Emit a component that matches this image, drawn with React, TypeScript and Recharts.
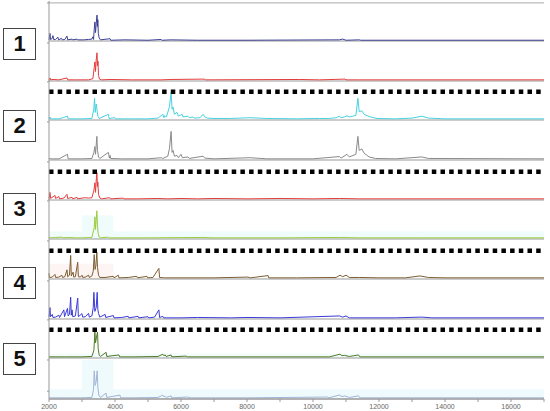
import React from 'react';
import { LineChart, Line, XAxis, YAxis, ReferenceLine, ReferenceArea } from 'recharts';

// m/z axis
const MZ_TICKS = [2000, 3000, 4000, 5000, 6000, 7000, 8000, 9000, 10000, 11000, 12000, 13000, 14000, 15000, 16000, 17000];
const Y_TICKS = [0, 20, 40, 60, 80, 100];
const GROUP_LABELS = ['1', '2', '3', '4', '5'];

type Peak = [number, number];

// [m/z, relative intensity]
const spectrum1: Peak[] = [[2000,3],[2030,20],[2045,4],[2090,6],[2120,14],[2140,4],[2200,4],[2270,10],[2290,3],[2380,7],[2400,3],[2480,4],[2545,13],[2565,3],[2700,5],[2720,3],[2850,5],[2870,3],[3050,3],[3200,4],[3300,5],[3330,11],[3350,4],[3370,30],[3390,50],[3410,22],[3430,45],[3455,68],[3470,38],[3480,56],[3495,20],[3520,8],[3560,3],[3850,6],[3870,2],[4300,3],[5000,2],[5400,4],[5420,2],[5700,3],[6500,2],[8000,2],[10800,3],[10900,5],[11000,2],[11400,3],[11450,2],[17000,2]];
const spectrum2: Peak[] = [[2000,3],[2030,8],[2050,3],[2120,4],[2300,3],[2545,8],[2565,3],[2800,3],[3200,3],[3330,6],[3370,35],[3390,50],[3410,25],[3430,55],[3455,74],[3470,40],[3485,52],[3500,15],[3530,5],[3600,3],[3850,4],[4500,3],[5400,3],[5700,4],[6700,5],[6750,3],[9600,4],[10200,3],[10970,5],[11000,3],[11400,3],[17000,3]];
const spectrum3: Peak[] = [[2000,3],[2030,8],[2050,3],[2300,3],[2560,10],[2580,3],[3000,3],[3300,4],[3360,30],[3380,57],[3400,20],[3430,42],[3450,30],[3480,10],[3520,4],[3800,15],[3820,4],[4000,6],[4020,3],[4400,3],[5000,3],[5300,5],[5450,15],[5480,6],[5500,11],[5560,8],[5650,35],[5700,72],[5730,28],[5760,34],[5800,15],[5880,20],[5920,10],[6030,15],[6060,8],[6210,10],[6250,6],[6360,8],[6400,5],[6575,6],[6670,15],[6720,8],[6800,5],[7000,4],[7500,4],[8090,6],[8600,4],[9500,3],[10200,4],[10500,4],[10700,6],[10800,10],[10850,6],[10950,8],[11030,11],[11100,8],[11300,12],[11360,57],[11400,22],[11480,24],[11550,15],[11700,9],[11940,4],[12500,3],[13000,5],[13300,10],[13500,5],[14000,3],[17000,3]];
const spectrum4: Peak[] = [[2000,3],[2030,5],[2050,3],[2300,3],[2560,15],[2580,3],[3000,3],[3300,4],[3360,20],[3390,35],[3410,15],[3450,62],[3470,25],[3500,8],[3540,4],[3800,20],[3830,5],[3850,12],[3870,4],[4200,3],[5000,3],[5400,6],[5450,4],[5600,10],[5650,30],[5700,75],[5730,20],[5760,25],[5800,10],[5880,12],[5920,6],[6000,15],[6040,6],[6210,8],[6250,4],[6670,10],[6720,5],[7000,3],[8100,6],[8600,3],[10000,3],[10800,9],[10850,5],[11030,15],[11100,8],[11300,15],[11360,62],[11400,25],[11480,29],[11550,18],[11700,8],[11900,4],[12500,3],[13300,8],[13500,4],[17000,3]];
const spectrum5: Peak[] = [[2000,3],[2030,20],[2050,4],[2180,12],[2200,4],[2300,9],[2320,3],[2450,5],[2545,15],[2565,4],[2700,7],[2720,3],[2850,7],[2870,3],[3000,5],[3100,6],[3200,5],[3300,6],[3360,25],[3390,45],[3410,20],[3430,50],[3450,72],[3470,35],[3480,47],[3500,15],[3540,5],[3600,3],[3840,6],[3860,3],[4250,5],[4270,3],[4700,3],[5300,4],[5600,3],[6000,4],[6500,3],[7000,4],[8000,3],[9000,4],[10000,3],[10800,4],[11400,3],[17000,3]];
const spectrum6: Peak[] = [[2000,3],[2030,5],[2050,3],[2200,4],[2400,5],[2420,3],[2600,4],[2800,3],[3000,3],[3300,4],[3370,30],[3390,58],[3410,25],[3430,50],[3450,74],[3470,35],[3490,15],[3520,5],[3560,3],[3800,5],[3820,3],[4200,3],[5000,3],[6600,4],[7000,3],[9000,3],[10800,4],[11400,3],[13300,3],[17000,3]];
const spectrum7: Peak[] = [[2000,15],[2010,4],[2100,5],[2180,12],[2200,4],[2300,5],[2390,10],[2410,4],[2480,6],[2545,24],[2565,6],[2620,10],[2657,62],[2675,8],[2730,18],[2750,5],[2800,6],[2870,44],[2890,6],[2950,5],[3000,10],[3020,4],[3100,5],[3200,10],[3220,4],[3300,8],[3340,20],[3370,64],[3395,25],[3420,35],[3450,70],[3470,30],[3500,10],[3540,4],[3700,4],[3950,7],[3970,3],[4100,10],[4120,3],[4400,4],[4660,7],[4680,3],[4970,7],[4990,3],[5150,4],[5330,28],[5350,4],[5500,3],[6000,3],[7000,3],[8030,5],[8100,3],[8640,9],[8660,3],[9500,3],[10700,4],[10820,10],[10900,6],[11000,10],[11100,4],[11400,4],[12000,3],[12800,3],[13240,8],[13500,4],[14000,3],[17000,3]];
const spectrum8: Peak[] = [[2000,5],[2030,30],[2045,6],[2100,12],[2120,4],[2200,5],[2300,10],[2320,4],[2450,24],[2470,6],[2560,28],[2580,8],[2620,12],[2657,57],[2675,10],[2700,24],[2720,6],[2800,8],[2870,55],[2890,6],[3000,14],[3020,5],[3100,6],[3200,15],[3220,5],[3300,8],[3340,30],[3360,70],[3390,20],[3430,30],[3460,70],[3480,25],[3500,15],[3540,5],[3700,12],[3720,4],[3950,9],[3970,3],[4200,4],[4400,7],[4420,3],[4700,7],[4720,3],[5000,6],[5020,3],[5200,5],[5330,24],[5350,4],[5450,7],[5470,3],[6000,3],[6500,4],[7500,3],[8000,4],[9000,3],[10800,8],[10900,5],[11000,8],[11100,3],[12500,3],[13300,5],[13600,3],[17000,3]];
const spectrum9: Peak[] = [[2000,3],[2500,3],[3000,3],[3300,4],[3360,20],[3390,68],[3410,40],[3440,55],[3470,68],[3490,25],[3520,8],[3560,4],[3730,15],[3750,4],[4120,8],[4140,3],[4600,3],[5300,4],[5450,10],[5480,6],[5520,8],[5550,4],[5700,8],[5720,3],[6150,5],[6200,3],[7000,3],[8000,3],[10500,3],[10820,10],[10880,6],[10950,7],[11100,4],[11380,8],[11420,3],[12000,3],[17000,3]];
const spectrum10: Peak[] = [[2000,3],[2500,3],[3000,3],[3300,4],[3350,25],[3370,72],[3400,35],[3430,45],[3460,72],[3480,30],[3510,10],[3560,4],[3730,15],[3750,4],[4150,10],[4170,3],[4600,3],[5300,4],[5450,10],[5480,6],[5520,7],[5550,4],[5700,8],[5720,3],[6200,5],[6300,3],[7000,3],[8000,3],[10450,5],[10480,3],[10800,10],[10880,6],[10960,8],[11100,4],[11380,8],[11420,3],[12000,3],[17000,3]];

type Shade = { x1: number; x2: number; y2: number; fill: string };

interface Panel {
  points: Peak[];
  color: string;
  dotted?: boolean;
  shades?: Shade[];
}

const panels: Panel[] = [
  { points: spectrum1, color: '#3b3f93' },
  { points: spectrum2, color: '#e33c3c' },
  { points: spectrum3, color: '#46d2e0', dotted: true },
  { points: spectrum4, color: '#8a8a8a' },
  { points: spectrum5, color: '#e33c3c', dotted: true },
  { points: spectrum6, color: '#9ccc3c', shades: [{ x1: 2000, x2: 17000, y2: 20, fill: '#f0fbfc' }, { x1: 3000, x2: 3950, y2: 62, fill: '#f0fbfc' }] },
  { points: spectrum7, color: '#7d5e33', dotted: true, shades: [{ x1: 2000, x2: 3950, y2: 40, fill: '#fdf4f4' }] },
  { points: spectrum8, color: '#3a3ad8' },
  { points: spectrum9, color: '#4e7a24', dotted: true, shades: [{ x1: 2000, x2: 17000, y2: 12, fill: '#f3fbfc' }] },
  { points: spectrum10, color: '#a3b4d6', shades: [{ x1: 2000, x2: 17000, y2: 25, fill: '#eefafc' }, { x1: 3000, x2: 3950, y2: 100, fill: '#eefafc' }] },
];

const FONT = '"Liberation Sans", Arial, sans-serif';
const FIRST_BASELINE = 41;
const PANEL_STEP = 39.67;
const BOX_TOPS = [28, 110, 193, 267, 343];

const SpectrumPanel: React.FC<{ panel: Panel; index: number }> = ({ panel, index }) => {
  const last = index === panels.length - 1;
  const baseline = FIRST_BASELINE + index * PANEL_STEP;
  const data = panel.points.map(([mz, v]) => ({ mz, v }));

  return (
    <div style={{ position: 'absolute', left: 0, top: baseline - 40 }}>
      <LineChart
        width={550}
        height={last ? 53 : 41}
        data={data}
        margin={{ top: 0, right: 6, bottom: last ? 0 : 1, left: 0 }}
      >
        <XAxis
          dataKey="mz"
          type="number"
          domain={[2000, 17000]}
          ticks={MZ_TICKS}
          interval={0}
          hide={!last}
          height={12}
          tickSize={3}
          axisLine={{ stroke: '#999' }}
          tickLine={{ stroke: '#999' }}
          tick={{ fontSize: 7, fill: '#666', fontFamily: FONT }}
          tickFormatter={(v: number) => (v % 2000 === 0 ? String(v) : '')}
        />
        <YAxis
          type="number"
          domain={[0, 105]}
          ticks={Y_TICKS}
          width={49}
          tick={() => <g />}
          tickSize={2}
          axisLine={{ stroke: '#999' }}
          tickLine={{ stroke: '#999' }}
        />
        {panel.shades?.map((s, i) => (
          <ReferenceArea key={i} x1={s.x1} x2={s.x2} y1={0} y2={s.y2} fill={s.fill} fillOpacity={1} stroke="none" />
        ))}
        {index === 0 && <ReferenceLine y={100} stroke="#aaa" />}
        <ReferenceLine y={0} stroke="#999" />
        <Line
          type="linear"
          dataKey="v"
          stroke={panel.color}
          strokeWidth={1}
          dot={false}
          isAnimationActive={false}
        />
        {panel.dotted && (
          <ReferenceLine y={74} stroke="#000" strokeWidth={4.5} strokeDasharray="4.5 4.2" />
        )}
      </LineChart>
    </div>
  );
};

export default function App() {
  return (
    <div style={{ position: 'fixed', left: 0, top: 0, width: 550, height: 411, background: '#fff', fontFamily: FONT }}>
      {panels.map((p, i) => (
        <SpectrumPanel key={i} panel={p} index={i} />
      ))}
      {GROUP_LABELS.map((label, i) => (
        <div
          key={label}
          style={{
            position: 'absolute',
            left: 3,
            top: BOX_TOPS[i],
            width: 33,
            height: 32,
            boxSizing: 'border-box',
            border: '1.5px solid #444',
            background: '#fff',
            display: 'flex',
            alignItems: 'center',
            justifyContent: 'center',
            fontWeight: 'bold',
            fontSize: 22,
            color: '#111',
          }}
        >
          {label}
        </div>
      ))}
    </div>
  );
}
